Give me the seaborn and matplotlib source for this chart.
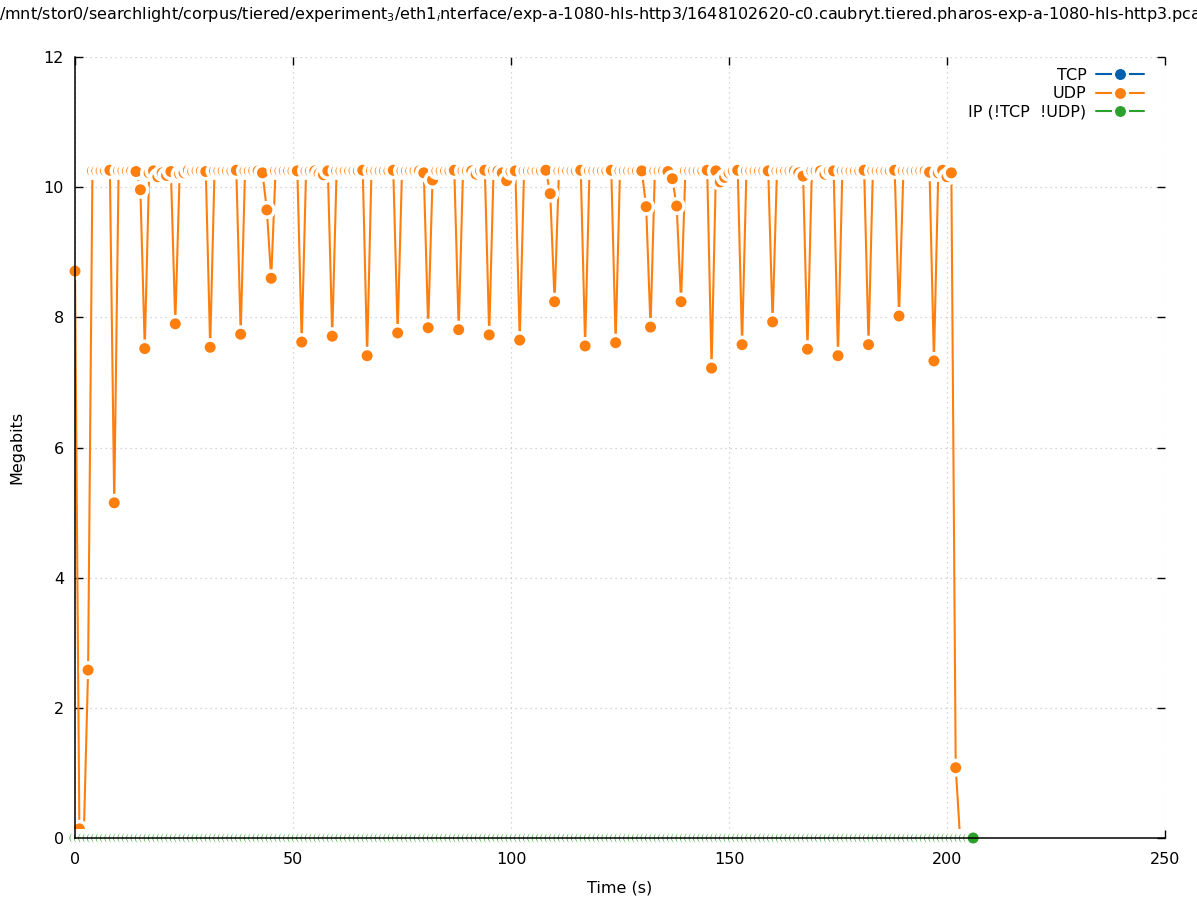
import numpy as np
import seaborn as sns
import matplotlib
matplotlib.use("Agg")
import matplotlib.pyplot as plt
from matplotlib.lines import Line2D

# UDP throughput per second (Megabits)
udp_time = list(range(204))
udp_mbits = [
    8.71, 0.14, 0.00, 2.58, 10.25, 10.25, 10.25, 10.25, 10.26, 5.15,
    10.25, 10.25, 10.25, 10.25, 10.24, 9.96, 7.52, 10.22, 10.25, 10.16,
    10.22, 10.18, 10.24, 7.90, 10.20, 10.22, 10.26, 10.24, 10.25, 10.25,
    10.24, 7.54, 10.25, 10.25, 10.25, 10.25, 10.25, 10.26, 7.74, 10.25,
    10.25, 10.25, 10.25, 10.22, 9.65, 8.60, 10.25, 10.25, 10.25, 10.25,
    10.25, 10.25, 7.62, 10.25, 10.25, 10.25, 10.21, 10.19, 10.25, 7.71,
    10.25, 10.25, 10.25, 10.25, 10.25, 10.25, 10.26, 7.41, 10.25, 10.25,
    10.25, 10.25, 10.25, 10.26, 7.76, 10.25, 10.25, 10.25, 10.25, 10.25,
    10.22, 7.84, 10.11, 10.25, 10.25, 10.25, 10.25, 10.26, 7.81, 10.25,
    10.25, 10.25, 10.20, 10.25, 10.26, 7.73, 10.25, 10.25, 10.22, 10.10,
    10.24, 10.25, 7.65, 10.25, 10.25, 10.25, 10.25, 10.25, 10.26, 9.90,
    8.24, 10.25, 10.25, 10.25, 10.25, 10.25, 10.26, 7.56, 10.25, 10.25,
    10.25, 10.25, 10.25, 10.26, 7.61, 10.25, 10.25, 10.25, 10.25, 10.25,
    10.25, 9.70, 7.85, 10.25, 10.25, 10.25, 10.24, 10.13, 9.71, 8.24,
    10.25, 10.25, 10.25, 10.25, 10.25, 10.26, 7.22, 10.25, 10.08, 10.15,
    10.22, 10.25, 10.26, 7.58, 10.25, 10.25, 10.25, 10.25, 10.25, 10.25,
    7.93, 10.25, 10.25, 10.25, 10.25, 10.25, 10.22, 10.17, 7.51, 10.25,
    10.25, 10.25, 10.20, 10.25, 10.25, 7.41, 10.25, 10.25, 10.25, 10.25,
    10.25, 10.26, 7.58, 10.25, 10.25, 10.25, 10.25, 10.25, 10.26, 8.02,
    10.25, 10.25, 10.25, 10.25, 10.25, 10.25, 10.23, 7.33, 10.22, 10.26,
    10.16, 10.22, 1.08, 0.00,
]

# non TCP/UDP IP traffic: flat zero until the capture ends
ip_time = list(range(207))
ip_mbits = [0.0] * len(ip_time)

series_labels = ["TCP", "UDP", "IP (!TCP  !UDP)"]
series_colors = ["#0060ad", "#ff7f0e", "#2ca02c"]

title = ("/mnt/stor0/searchlight/corpus/tiered/experiment$_3$/eth1$_i$nterface/"
         "exp-a-1080-hls-http3/1648102620-c0.caubryt.tiered.pharos-exp-a-1080-hls-http3.pcap")

sns.set_style("ticks")
plt.rcParams["font.family"] = ["DejaVu Sans"]
plt.rcParams["mathtext.fontset"] = "dejavusans"
plt.rcParams["font.size"] = 11.5
for key in ["text.color", "axes.labelcolor", "xtick.color", "ytick.color",
            "axes.edgecolor"]:
    plt.rcParams[key] = "black"

fig = plt.figure(figsize=(11.97, 9), dpi=100)
ax = fig.add_axes([75 / 1197, 1 - 838 / 900, 1090 / 1197, 781 / 900])

dot = 7.9     # marker diameter (pt)
gap = 13.0    # white ring around each point, gnuplot style


def gnu_linespoints(t, v, color, z):
    sns.lineplot(x=t, y=v, ax=ax, color=color, lw=1.5, sort=False,
                 estimator=None, zorder=z)
    # white disc then coloured dot, point after point
    xs = np.repeat(t, 2)
    ys = np.repeat(v, 2)
    sizes = np.tile([gap ** 2, dot ** 2], len(t))
    cols = ["white", color] * len(t)
    ax.scatter(xs, ys, s=sizes, c=cols, linewidths=0, zorder=z + 0.5,
               clip_on=False)


gnu_linespoints(udp_time, udp_mbits, series_colors[1], 2)
gnu_linespoints(ip_time, ip_mbits, series_colors[2], 3)

ax.set_xlim(0, 250)
ax.set_ylim(0, 12)
ax.set_xticks(range(0, 251, 50))
ax.set_yticks(range(0, 13, 2))
ax.grid(True, color="#c8c8c8", linestyle=(0, (1, 3)), linewidth=0.9)
ax.tick_params(direction="in", length=6, width=1, top=True, right=True,
               labelsize=11.5, color="black")
ax.tick_params(axis="x", pad=10)
ax.tick_params(axis="y", pad=8)
for side in ["top", "right"]:
    ax.spines[side].set_visible(False)
for side in ["left", "bottom"]:
    ax.spines[side].set_linewidth(1.1)
    ax.spines[side].set_zorder(4)

ax.set_xlabel("Time (s)", fontsize=11.5, labelpad=10)
ax.set_ylabel("Megabits", fontsize=11.5, labelpad=14)
fig.text(0.5 + 7 / 1197, 1 - 15 / 900, title, ha="center", va="center",
         fontsize=11.5)

handles = [Line2D([], [], color=c, lw=1.5, marker="o", markersize=dot + 2.2,
                  markeredgecolor="white", markeredgewidth=2.2)
           for c in series_colors]
ax.legend(handles, series_labels, loc="upper right",
          bbox_to_anchor=(1152 / 1197, 1 - 60 / 900),
          bbox_transform=fig.transFigure, frameon=False, markerfirst=False,
          handlelength=3.0, handletextpad=0.6, labelspacing=0.2,
          borderpad=0, fontsize=11.5)

fig.savefig("out.png", dpi=100)
